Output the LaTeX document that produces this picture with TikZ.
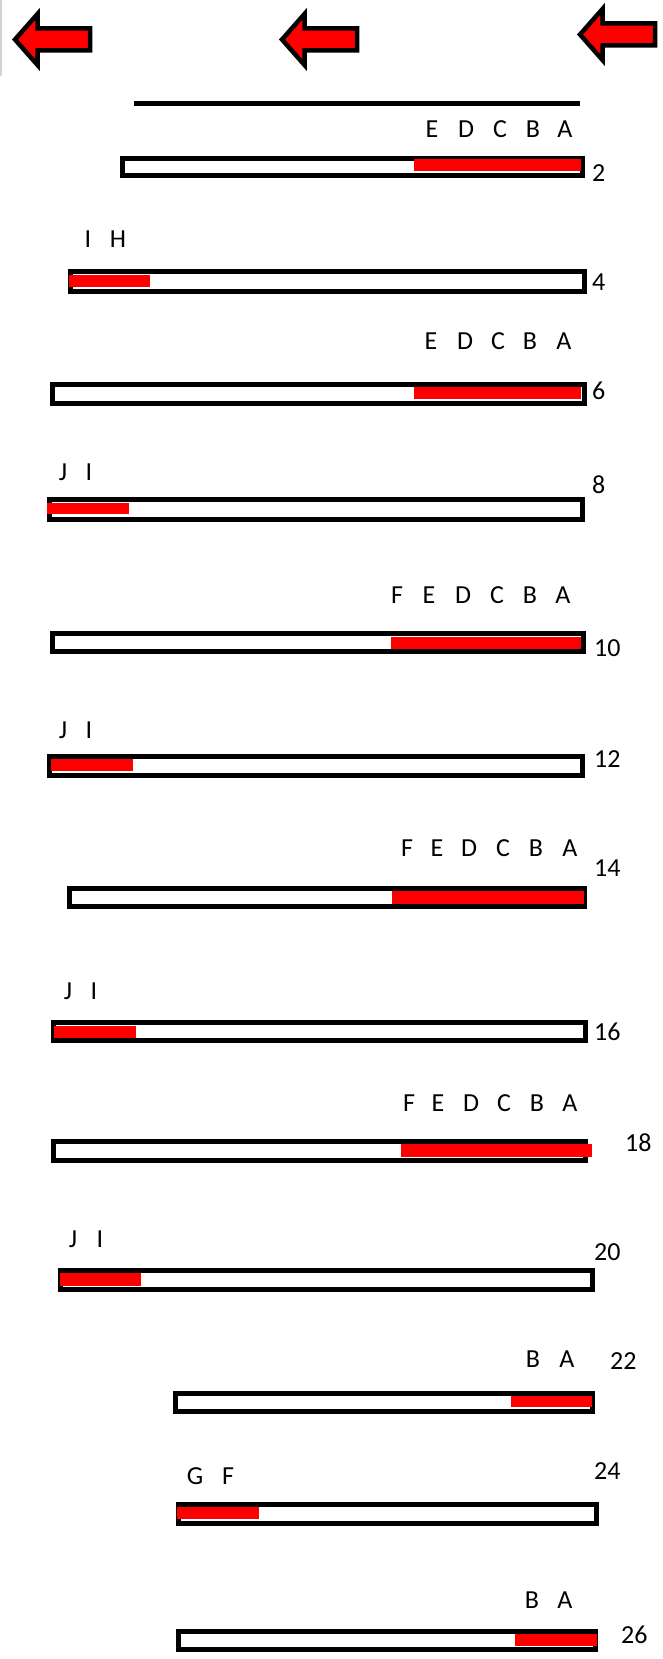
\documentclass[tikz,border=0pt]{standalone}
\usepackage{fontspec}
\setmainfont{Carlito}
\tikzset{
  barbox/.style={draw=black, line width=5pt, fill=white},
  redpart/.style={fill=red, draw=none},
  letter/.style={inner sep=0pt, text height=0.644em, text depth=0pt, font=\fontsize{26}{31}\selectfont},
  numlabel/.style={inner sep=0pt, anchor=west, text height=0.632em, text depth=0pt, font=\fontsize{26}{31}\selectfont},
  arrowshape/.style={fill=red, draw=black, line width=4.5pt, miter limit=10},
  topline/.style={line width=5pt, draw=black}
}
\newcommand{\mybar}[8]{%
  \draw[barbox] ({#1+2.5},{#3+2.5}) rectangle ({#2-2.5},{#4-2.5});
  \fill[redpart] (#5,#7) rectangle (#6,#8);
}
\newcommand{\myarrow}[2]{%
  \draw[arrowshape, shift={(#1,#2)}] (15,39.5) -- (37.5,14) -- (37.5,28.5) -- (90,28.5) -- (90,50.5) -- (37.5,50.5) -- (37.5,65) -- cycle;
}
\begin{document}
\begin{tikzpicture}[x=1pt,y=-1pt]
\useasboundingbox (0,0) rectangle (662,1659);
\fill[white] (0,0) rectangle (662,1659);
\draw[gray!35, line width=1.5pt] (0.75,0) -- (0.75,76);
% arrows
\myarrow{0}{0}
\myarrow{267}{0}
\myarrow{565}{-5}
% top line
\coordinate (tl1) at (134,104);
\coordinate (tl2) at (580,104);
\draw[topline] (tl1) -- (tl2);
% bars
\mybar{120}{585}{155.5}{177.5}{414}{581}{159}{171}
\mybar{68}{587}{269}{294}{69}{150}{275}{287}
\mybar{50}{587}{382}{406}{414}{581}{387}{399}
\mybar{47}{585}{497}{522}{47}{129}{503}{514}
\mybar{50}{586}{631}{654}{391}{581}{637}{649}
\mybar{47}{585}{754}{778}{51}{133}{759}{771}
\mybar{67}{587}{886}{909}{392}{584}{891}{904}
\mybar{51}{588}{1020}{1043}{54}{136}{1026}{1038}
\mybar{51}{588}{1139}{1163}{401}{592}{1144}{1157}
\mybar{58}{595}{1268}{1292}{60}{141}{1273}{1286}
\mybar{173}{595}{1391}{1414}{511}{592}{1396}{1407}
\mybar{176}{599}{1502}{1526}{177}{259}{1507}{1519}
\mybar{176}{598}{1629}{1652}{515}{597}{1634}{1646}
% number labels
\node[numlabel] (n2) at (592,178) {2};
\node[numlabel] (n4) at (592,287) {4};
\node[numlabel] (n6) at (592,396) {6};
\node[numlabel] (n8) at (592,490) {8};
\node[numlabel] (n10) at (594,653) {10};
\node[numlabel] (n12) at (594,764) {12};
\node[numlabel] (n14) at (594,873) {14};
\node[numlabel] (n16) at (594,1037) {16};
\node[numlabel] (n18) at (625,1148) {18};
\node[numlabel] (n20) at (594,1257) {20};
\node[numlabel] (n22) at (610,1366) {22};
\node[numlabel] (n24) at (594,1476) {24};
\node[numlabel] (n26) at (621,1640) {26};
% letters
\foreach \x/\t [count=\i] in {432/E,466/D,500/C,533/B,565/A}
  \node[letter] (ra-\i) at (\x,134) {\t};
\foreach \x/\t [count=\i] in {88/I,118/H}
  \node[letter] (rb-\i) at (\x,244) {\t};
\foreach \x/\t [count=\i] in {431/E,465/D,498/C,530/B,564/A}
  \node[letter] (rc-\i) at (\x,346) {\t};
\foreach \x/\t [count=\i] in {63/J,89/I}
  \node[letter] (rd-\i) at (\x,477) {\t};
\foreach \x/\t [count=\i] in {397/F,429/E,463/D,497/C,530/B,563/A}
  \node[letter] (re-\i) at (\x,600) {\t};
\foreach \x/\t [count=\i] in {63/J,89/I}
  \node[letter] (rf-\i) at (\x,735) {\t};
\foreach \x/\t [count=\i] in {407/F,437/E,469/D,503/C,536/B,570/A}
  \node[letter] (rg-\i) at (\x,853) {\t};
\foreach \x/\t [count=\i] in {68/J,94/I}
  \node[letter] (rh-\i) at (\x,996) {\t};
\foreach \x/\t [count=\i] in {409/F,438/E,471/D,504/C,537/B,570/A}
  \node[letter] (ri-\i) at (\x,1108) {\t};
\foreach \x/\t [count=\i] in {73/J,100/I}
  \node[letter] (rj-\i) at (\x,1244) {\t};
\foreach \x/\t [count=\i] in {533/B,567/A}
  \node[letter] (rk-\i) at (\x,1364) {\t};
\foreach \x/\t [count=\i] in {195/G,228/F}
  \node[letter] (rl-\i) at (\x,1481) {\t};
\foreach \x/\t [count=\i] in {532/B,565/A}
  \node[letter] (rm-\i) at (\x,1605) {\t};
\end{tikzpicture}
\end{document}
